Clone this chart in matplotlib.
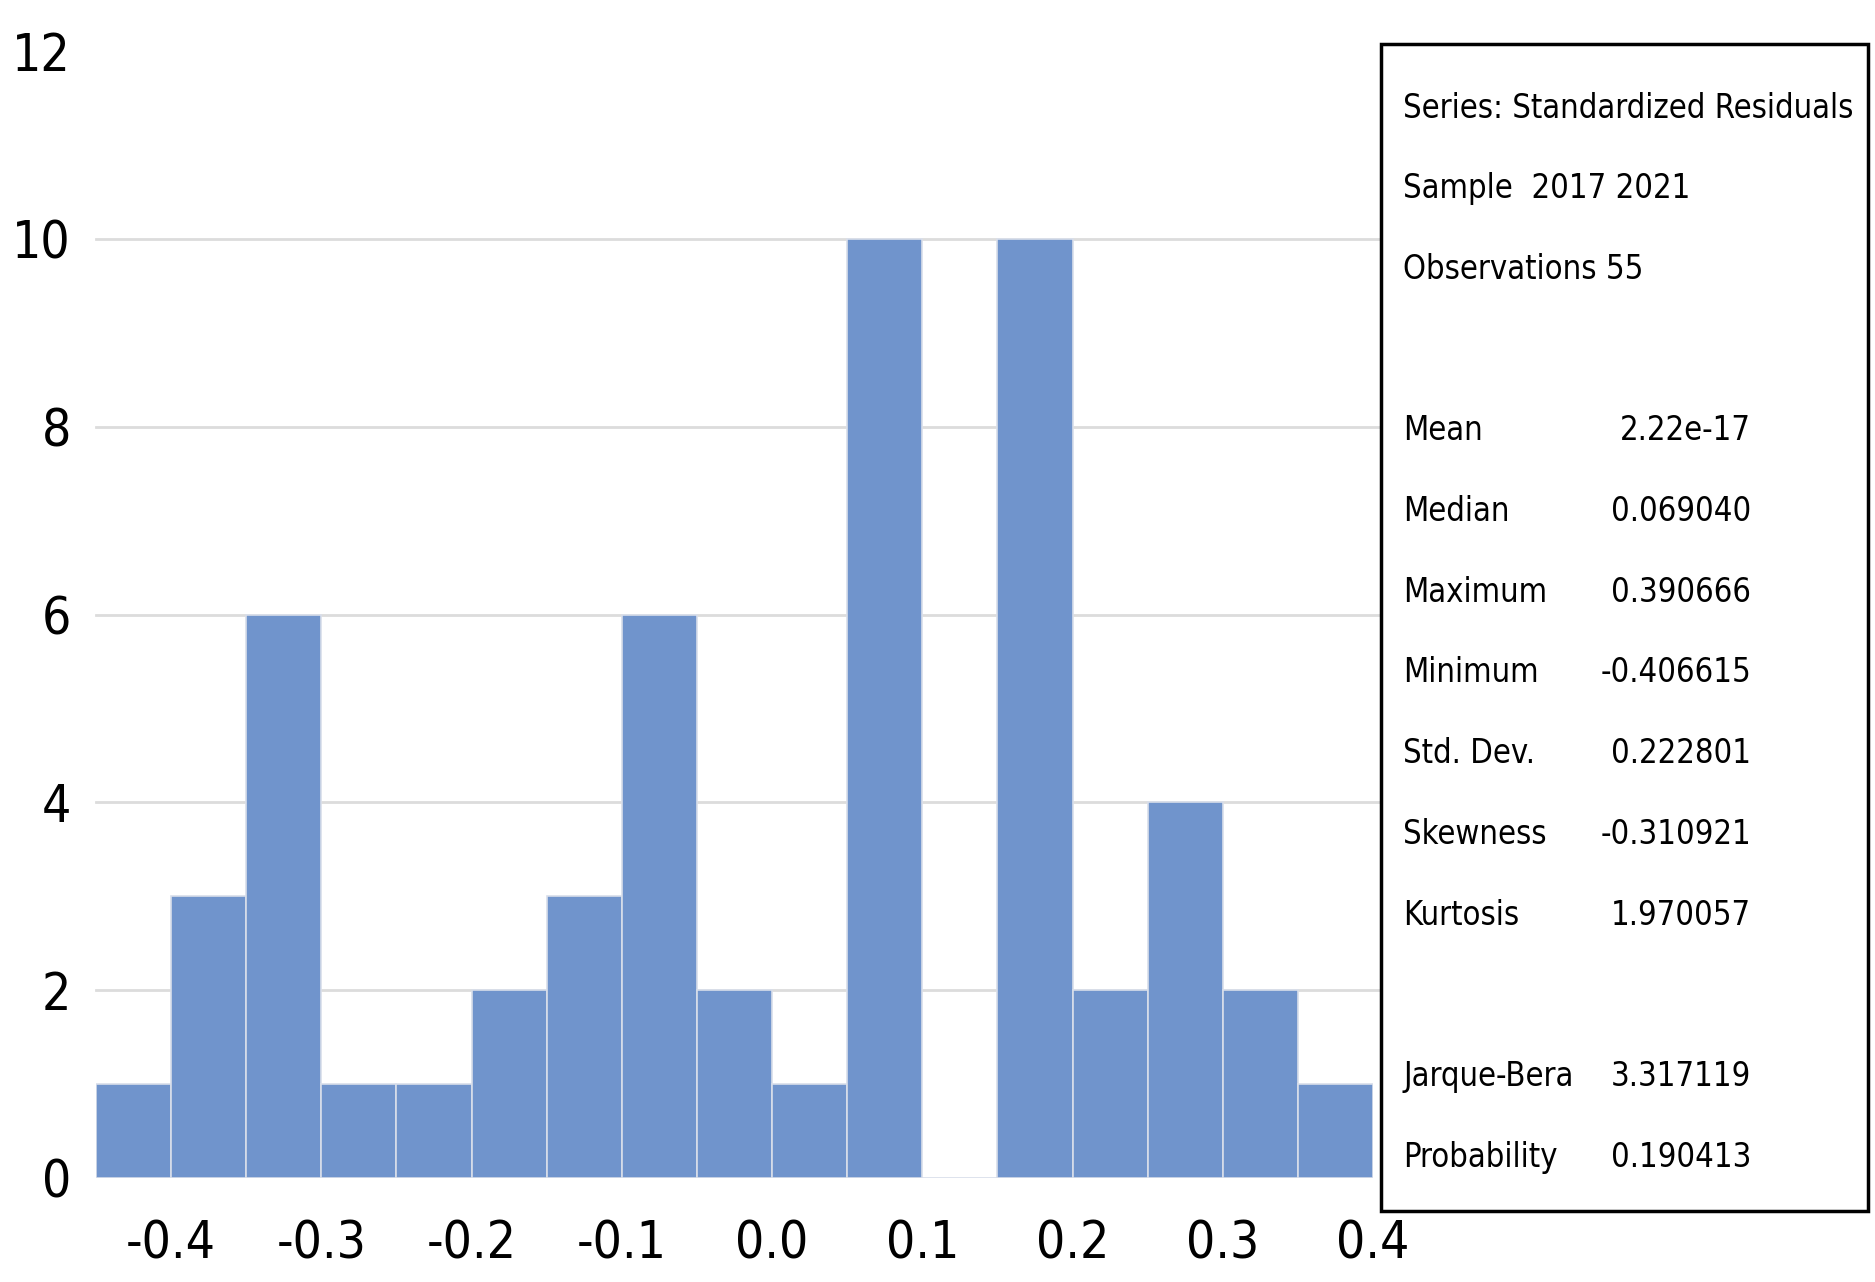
import matplotlib.pyplot as plt
import numpy as np
from matplotlib.patches import Rectangle

# histogram of standardized residuals, bin width 0.05
bin_left = [-0.45, -0.40, -0.35, -0.30, -0.25, -0.20, -0.15, -0.10, -0.05,
            0.00, 0.05, 0.10, 0.15, 0.20, 0.25, 0.30, 0.35]
counts = [1, 3, 6, 1, 1, 2, 3, 6, 2, 1, 10, 0, 10, 2, 4, 2, 1]
bin_width = 0.05

x_ticks = [-0.4, -0.3, -0.2, -0.1, 0.0, 0.1, 0.2, 0.3, 0.4]
y_ticks = [0, 2, 4, 6, 8, 10, 12]

stat_names = ['Mean', 'Median', 'Maximum', 'Minimum', 'Std. Dev.',
              'Skewness', 'Kurtosis', '', 'Jarque-Bera', 'Probability']
stat_values = ['2.22e-17', '0.069040', '0.390666', '-0.406615', '0.222801',
               '-0.310921', '1.970057', '', '3.317119', '0.190413']
header = ['Series: Standardized Residuals', 'Sample  2017 2021', 'Observations 55']

plt.rcParams['font.family'] = ['DejaVu Sans']
plt.rcParams['font.stretch'] = 'condensed'

fig = plt.figure(figsize=(18.75, 12.82), dpi=100)
ax = fig.add_axes([0.0512, 0.0811, 0.6811, 0.8791])

ax.bar(bin_left, counts, width=bin_width, align='edge', color='#7094CC',
       edgecolor='#D8DEEA', linewidth=1.2, zorder=2)

# light grid, runs up to the stats box
for yv in y_ticks[1:-1]:
    ax.axhline(yv, xmax=1.008, color='#DCDCDC', linewidth=2, zorder=1, clip_on=False)

ax.set_xlim(-0.45, 0.4)
ax.set_ylim(0, 12)
ax.set_xticks(x_ticks)
ax.set_xticklabels(['%.1f' % v for v in x_ticks])
ax.set_yticks(y_ticks)
ax.tick_params(axis='both', length=0, labelsize=37)
ax.tick_params(axis='x', pad=30)
ax.tick_params(axis='y', pad=18)
for s in ax.spines.values():
    s.set_visible(False)

# stats box
box = Rectangle((0.7365, 0.0554), 0.2598, 0.9103, transform=fig.transFigure,
                facecolor='white', edgecolor='black', linewidth=2.5, zorder=3)
fig.patches.append(box)

fs = 23.5
y_pos = 1 - 108 / 1282
step = 80.7 / 1282
for line in header:
    fig.text(0.7483, y_pos, line, fontsize=fs, va='center', ha='left')
    y_pos -= step
y_pos -= step
for name, val in zip(stat_names, stat_values):
    if name:
        fig.text(0.7483, y_pos, name, fontsize=fs, va='center', ha='left')
        fig.text(0.934, y_pos, val, fontsize=fs, va='center', ha='right')
    y_pos -= step

fig.savefig('out.png', dpi=100)
